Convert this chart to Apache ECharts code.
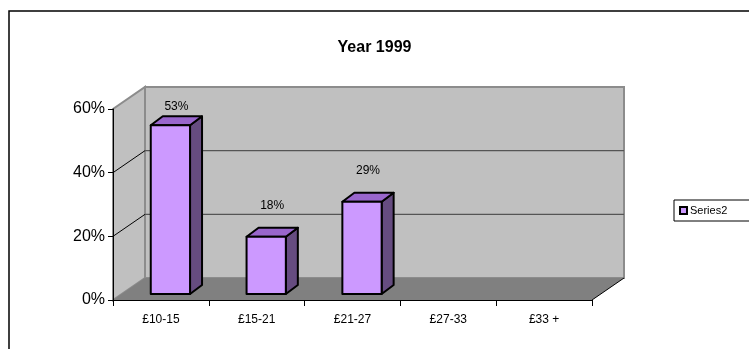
<!DOCTYPE html>
<html>
<head>
<meta charset="utf-8">
<script src="https://cdn.jsdelivr.net/npm/echarts@6/dist/echarts.min.js"></script>
<style>
html,body{margin:0;padding:0;background:#fff;}
#c{width:749px;height:349px;}
</style>
</head>
<body>
<div id="c"></div>
<script>
// ---- data ----
const categories = ['£10-15', '£15-21', '£21-27', '£27-33', '£33 +'];
const series2 = [0.53, 0.18, 0.29, null, null];
const seriesName = 'Series2';
const titleText = 'Year 1999';
const yMin = 0, yMax = 0.6, yStep = 0.2;

// ---- style constants ----
const FONT = 'Arial, "Liberation Sans", sans-serif';
const DEPTH_X = 32, DEPTH_Y = -22;      // floor depth
const BAR_OFF_X = 9.5, BAR_OFF_Y = -6;  // bar front plane
const BAR_DX = 12, BAR_DY = -9;         // bar depth
const BAR_W_RATIO = 0.41;

const chart = echarts.init(document.getElementById('c'), null, {renderer: 'canvas'});

function frameRender(params, api) {
  const cs = params.coordSys;
  const x0 = cs.x, y0 = cs.y, w = cs.width, h = cs.height;
  const yb = y0 + h;
  const children = [];
  // back wall
  children.push({type: 'polygon', shape: {points: [
      [x0 + DEPTH_X, y0 + DEPTH_Y], [x0 + w + DEPTH_X, y0 + DEPTH_Y],
      [x0 + w + DEPTH_X, yb + DEPTH_Y], [x0 + DEPTH_X, yb + DEPTH_Y]]},
    style: {fill: '#C0C0C0', stroke: '#8C8C8C', lineWidth: 2}});
  // side wall
  children.push({type: 'polygon', shape: {points: [
      [x0, yb], [x0, y0], [x0 + DEPTH_X, y0 + DEPTH_Y], [x0 + DEPTH_X, yb + DEPTH_Y]]},
    style: {fill: '#C0C0C0', stroke: '#8C8C8C', lineWidth: 2}});
  // floor
  children.push({type: 'polygon', shape: {points: [
      [x0, yb], [x0 + w, yb], [x0 + w + DEPTH_X, yb + DEPTH_Y], [x0 + DEPTH_X, yb + DEPTH_Y]]},
    style: {fill: '#808080', stroke: null}});
  children.push({type: 'line', shape: {x1: x0 + w, y1: yb, x2: x0 + w + DEPTH_X, y2: yb + DEPTH_Y},
    style: {stroke: '#000', lineWidth: 1}});
  // grid lines
  for (let v = yMin + yStep; v < yMax - 1e-9; v += yStep) {
    const y = api.coord([0, v])[1];
    children.push({type: 'line', shape: {x1: x0, y1: y, x2: x0 + DEPTH_X, y2: y + DEPTH_Y},
      style: {stroke: '#000', lineWidth: 1}});
    children.push({type: 'line', shape: {x1: x0 + DEPTH_X, y1: y + DEPTH_Y, x2: x0 + w + DEPTH_X, y2: y + DEPTH_Y},
      style: {stroke: '#555', lineWidth: 1.2}});
  }
  return {type: 'group', children: children};
}

function barRender(params, api) {
  const v = api.value(1);
  if (v == null || isNaN(v)) return null;
  const i = api.value(0);
  const cs = params.coordSys;
  const top = api.coord([i, v]);
  const base = api.coord([i, 0]);
  const bw = api.size([1, 0])[0] * BAR_W_RATIO;
  const xl = top[0] + BAR_OFF_X - bw / 2, xr = xl + bw;
  const yt = top[1] + BAR_OFF_Y, yb = base[1] + BAR_OFF_Y;
  const st = {stroke: '#000', lineWidth: 2, lineJoin: 'round'};
  const labelY = Math.max(yt + BAR_DY - 22, cs.y - 2);
  return {type: 'group', children: [
    {type: 'polygon', shape: {points: [[xr, yt], [xr + BAR_DX, yt + BAR_DY], [xr + BAR_DX, yb + BAR_DY], [xr, yb]]},
      style: Object.assign({fill: '#664C80'}, st)},
    {type: 'polygon', shape: {points: [[xl, yt], [xr, yt], [xr + BAR_DX, yt + BAR_DY], [xl + BAR_DX, yt + BAR_DY]]},
      style: Object.assign({fill: '#9966CC'}, st)},
    {type: 'rect', shape: {x: xl, y: yt, width: bw, height: yb - yt},
      style: Object.assign({fill: '#CC99FF'}, st)},
    {type: 'text', x: (xl + xr + BAR_DX) / 2, y: labelY,
      style: {text: Math.round(v * 100) + '%', fill: '#000', font: '12px ' + FONT,
        textAlign: 'center', textVerticalAlign: 'middle'}}
  ]};
}

const option = {
  animation: false,
  backgroundColor: '#fff',
  textStyle: {fontFamily: FONT},
  title: {
    text: titleText, left: 'center', top: 35,
    textStyle: {fontSize: 16, fontWeight: 'bold', color: '#000', fontFamily: FONT}
  },
  legend: {
    data: [seriesName], left: 674, top: 200, orient: 'vertical',
    icon: 'rect', itemWidth: 7, itemHeight: 7, itemGap: 4,
    padding: [5, 40, 5, 5],
    borderColor: '#000', borderWidth: 1,
    textStyle: {fontSize: 11, color: '#000', fontFamily: FONT, padding: [0, 0, 0, -2]}
  },
  grid: {left: 113, top: 109, width: 479, height: 191, containLabel: false, outerBoundsMode: 'none'},
  xAxis: {
    type: 'category', data: categories, boundaryGap: true,
    axisLine: {show: true, lineStyle: {color: '#000', width: 1}},
    axisTick: {show: true, alignWithLabel: false, length: 6, lineStyle: {color: '#000'}},
    axisLabel: {fontSize: 12, color: '#000', margin: 14, fontFamily: FONT, interval: 0},
    splitLine: {show: false}
  },
  yAxis: {
    type: 'value', min: yMin, max: yMax, interval: yStep,
    axisLine: {show: true, lineStyle: {color: '#000', width: 1}},
    axisTick: {show: true, length: 5, lineStyle: {color: '#000'}},
    axisLabel: {fontSize: 16, color: '#000', margin: 8, fontFamily: FONT,
      formatter: function (v) { return Math.round(v * 100) + '%'; }},
    splitLine: {show: false}
  },
  graphic: [{
    type: 'rect', silent: true, z: 100,
    shape: {x: 9, y: 11, width: 800, height: 400},
    style: {fill: null, stroke: '#000', lineWidth: 1.5}
  }],
  series: [
    {type: 'custom', silent: true, z: -1, renderItem: frameRender, data: [[0, 0]], clip: false},
    {type: 'custom', name: seriesName, z: 3, renderItem: barRender, clip: false,
      itemStyle: {color: '#CC99FF', borderColor: '#000', borderWidth: 1},
      data: series2.map(function (v, i) { return [i, v == null ? '-' : v]; })}
  ]
};
chart.setOption(option);
</script>
</body>
</html>
